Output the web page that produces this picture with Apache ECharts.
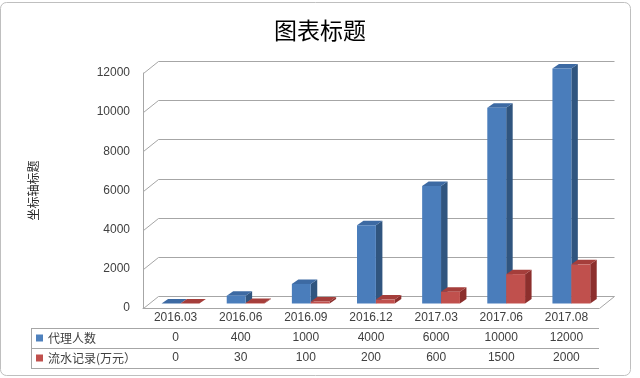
<!DOCTYPE html>
<html>
<head>
<meta charset="utf-8">
<script src="https://cdn.jsdelivr.net/npm/echarts@6/dist/echarts.min.js"></script>
<style>
  html, body { margin: 0; padding: 0; background: #fff; }
  #chart { width: 640px; height: 378px; }
</style>
</head>
<body>
<div id="chart"></div>
<script>
const categories = ['2016.03', '2016.06', '2016.09', '2016.12', '2017.03', '2017.06', '2017.08'];
const agents = [0, 400, 1000, 4000, 6000, 10000, 12000];
const flow = [0, 30, 100, 200, 600, 1500, 2000];
const yTicks = [0, 2000, 4000, 6000, 8000, 10000, 12000];
const seriesNames = ['代理人数', '流水记录(万元）'];

const chart = echarts.init(document.getElementById('chart'));
const lineColor = '#a6a6a6';
const textColor = '#404040';
const numFont = 'Liberation Sans';
const cjkFont = 'Noto Sans CJK SC';

// 墙面进深
const wallDx = 15, wallDy = -12;
// 柱子进深
const barShiftX = 4.9, barShiftY = -4.5, barDx = 6.5, barDy = -4.5;

function crisp(v) {
  return Math.round(v) + 0.5;
}

function renderGrid(params, api) {
  const v = api.value(1);
  const cs = params.coordSys;
  const y = crisp(api.coord([0, v])[1]);
  const x0 = crisp(cs.x), x1 = crisp(cs.x + cs.width);
  const children = [{
    type: 'polyline',
    shape: { points: [[x0, y], [x0 + wallDx, y + wallDy], [x1 + wallDx, y + wallDy]] },
    style: { stroke: lineColor, lineWidth: 1, fill: null }
  }];
  if (v === 0) {
    children.push({
      type: 'line',
      shape: { x1: x1, y1: y, x2: x1 + wallDx, y2: y + wallDy },
      style: { stroke: lineColor, lineWidth: 1 }
    });
  }
  return { type: 'group', children: children };
}

function makeBar(k, front, side, top) {
  return function (params, api) {
    const i = api.value(0), v = api.value(1);
    const pt = api.coord([i, v]);
    const base = api.coord([i, 0]);
    const bw = api.size([1, 0])[0];
    const w = bw * 0.29;
    const x0 = pt[0] + barShiftX - w + k * w;
    const yb = base[1] + barShiftY;
    const yt = pt[1] + barShiftY;
    return {
      type: 'group',
      children: [
        {
          type: 'polygon',
          shape: { points: [[x0 + w, yt], [x0 + w + barDx, yt + barDy], [x0 + w + barDx, yb + barDy], [x0 + w, yb]] },
          style: { fill: side }
        },
        {
          type: 'polygon',
          shape: { points: [[x0, yt], [x0 + barDx, yt + barDy], [x0 + w + barDx, yt + barDy], [x0 + w, yt]] },
          style: { fill: top }
        },
        {
          type: 'rect',
          shape: { x: x0, y: yt, width: w, height: yb - yt },
          style: { fill: front }
        }
      ]
    };
  };
}

function renderTable(params, api) {
  const i = api.value(0);
  const cs = params.coordSys;
  const x = api.coord([i, 0])[0];
  const yBase = cs.y + cs.height;
  const cell = function (txt, y) {
    return {
      type: 'text',
      style: {
        text: txt, x: x, y: y, align: 'center', verticalAlign: 'middle',
        fill: textColor, fontSize: 12, fontFamily: numFont
      }
    };
  };
  return {
    type: 'group',
    children: [cell(String(agents[i]), yBase + 30), cell(String(flow[i]), yBase + 50)]
  };
}

const option = {
  backgroundColor: '#fff',
  animation: false,
  title: {
    text: '图表标题',
    left: 'center',
    top: 14,
    textStyle: { fontSize: 23, fontWeight: 'normal', color: '#000', fontFamily: cjkFont }
  },
  legend: {
    orient: 'vertical',
    left: 36,
    top: 331,
    padding: 0,
    itemGap: 6,
    itemWidth: 7,
    itemHeight: 7,
    icon: 'rect',
    selectedMode: false,
    textStyle: { fontSize: 12, color: textColor, fontFamily: cjkFont, lineHeight: 14 },
    data: seriesNames
  },
  graphic: [
    {
      type: 'rect', z: -10,
      shape: { x: 0.5, y: 2.5, width: 630, height: 373, r: 6 },
      style: { fill: '#fff', stroke: '#bfbfbf', lineWidth: 1 }
    },
    { type: 'line', shape: { x1: 31, y1: 328.5, x2: 599, y2: 328.5 }, style: { stroke: lineColor } },
    { type: 'line', shape: { x1: 31, y1: 348.5, x2: 599, y2: 348.5 }, style: { stroke: lineColor } },
    { type: 'line', shape: { x1: 31, y1: 368.5, x2: 599, y2: 368.5 }, style: { stroke: lineColor } },
    { type: 'line', shape: { x1: 31.5, y1: 328, x2: 31.5, y2: 369 }, style: { stroke: lineColor } }
  ],
  grid: { left: 143, right: 41, top: 73, bottom: 70 },
  xAxis: {
    type: 'category',
    data: categories,
    axisLine: { lineStyle: { color: lineColor } },
    axisTick: { length: 61, lineStyle: { color: lineColor } },
    axisLabel: { margin: 4, fontSize: 12, color: textColor, fontFamily: numFont, interval: 0 },
    splitLine: { show: false }
  },
  yAxis: {
    type: 'value',
    min: 0,
    max: 12000,
    interval: 2000,
    name: '坐标轴标题',
    nameLocation: 'middle',
    nameRotate: 90,
    nameGap: 104,
    nameTextStyle: { fontSize: 12, color: '#262626', fontFamily: cjkFont },
    axisLine: { show: true, lineStyle: { color: lineColor } },
    axisTick: { show: false },
    splitLine: { show: false },
    axisLabel: {
      margin: 13, fontSize: 12, color: textColor, fontFamily: numFont,
      formatter: function (v) { return String(v); }
    }
  },
  series: [
    {
      type: 'custom', name: 'grid3d', z: 1, silent: true,
      renderItem: renderGrid,
      data: yTicks.map(function (v) { return [0, v]; })
    },
    {
      type: 'custom', name: seriesNames[0], z: 2,
      itemStyle: { color: '#4f81bd' },
      renderItem: makeBar(0, '#4a7dbb', '#30557f', '#3d6aa3'),
      data: agents.map(function (v, i) { return [i, v]; })
    },
    {
      type: 'custom', name: seriesNames[1], z: 3,
      itemStyle: { color: '#c0504d' },
      renderItem: makeBar(1, '#c0504d', '#8c2f2d', '#a53e3b'),
      data: flow.map(function (v, i) { return [i, v]; })
    },
    {
      type: 'custom', name: 'table', z: 4, silent: true,
      renderItem: renderTable,
      data: categories.map(function (c, i) { return [i, 0]; })
    }
  ]
};
chart.setOption(option);
</script>
</body>
</html>
